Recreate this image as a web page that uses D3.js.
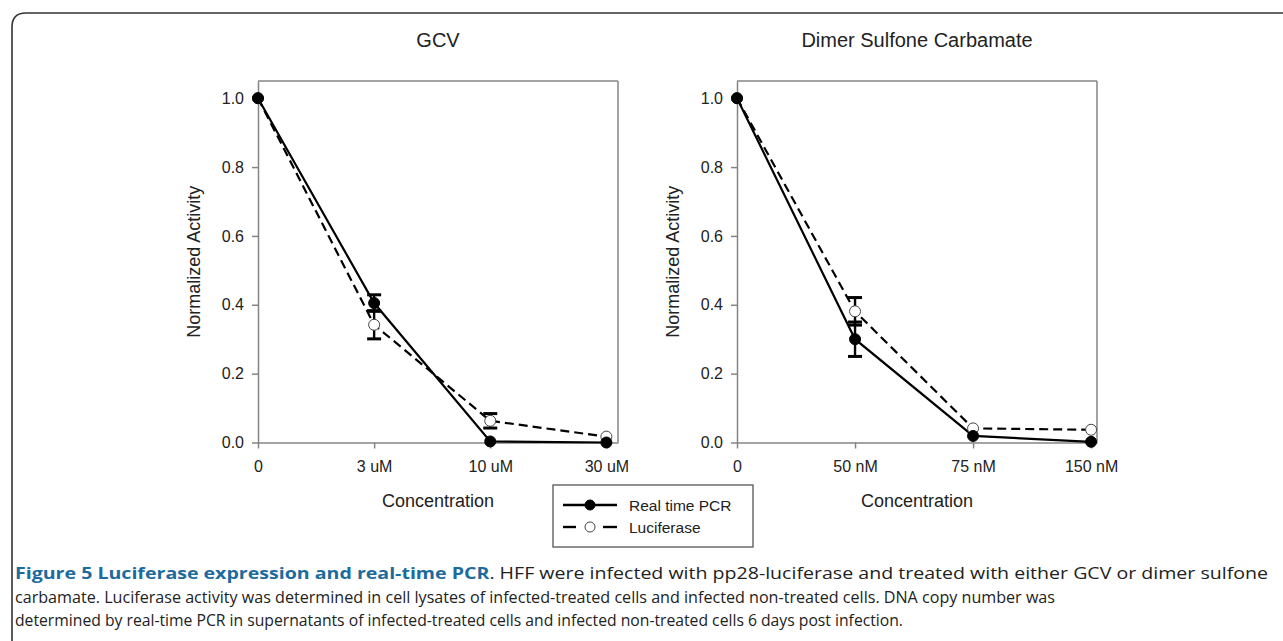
<!DOCTYPE html>
<html lang="en">
<head>
    <meta charset="UTF-8">
    <title>Figure 5 Luciferase expression and real-time PCR</title>
    <script src="https://d3js.org/d3.v7.min.js"></script>
    <style>
        body {
            margin: 0;
            background-color: #fff;
        }
        svg text {
            font-family: "Liberation Sans", Arial, sans-serif;
            fill: #222;
        }
        .frame {
            stroke: #858585;
            stroke-width: 1.5px;
        }
        .axis path, .axis line {
            stroke: #858585;
            stroke-width: 1.5px;
        }
        .axis text {
            font-size: 16px;
            font-family: "Liberation Sans", Arial, sans-serif;
        }
        svg text.caption {
            font-family: "Open Sans", "Noto Sans", sans-serif;
            font-size: 16px;
            fill: #222;
        }
    </style>
</head>
<body>
    <div id="chart"></div>

    <script>
        // tick labels
        const concGCV = ["0", "3 uM", "10 uM", "30 uM"];
        const concDSC = ["0", "50 nM", "75 nM", "150 nM"];

        // values (normalized activity)
        const pcrGCV = [1.0, 0.405, 0.003, 0.0];
        const pcrGCVErr = [0, 0.024, 0, 0];
        const lucGCV = [1.0, 0.342, 0.063, 0.017];
        const lucGCVErr = [0, 0.041, 0.021, 0];

        const pcrDSC = [1.0, 0.300, 0.019, 0.002];
        const pcrDSCErr = [0, 0.05, 0, 0];
        const lucDSC = [1.0, 0.381, 0.041, 0.037];
        const lucDSCErr = [0, 0.04, 0, 0];

        const yTicks = [0, 0.2, 0.4, 0.6, 0.8, 1.0];

        const width = 1283;
        const height = 641;

        const svg = d3.select("#chart")
            .append("svg")
            .attr("width", width)
            .attr("height", height);

        // outer frame, only the top-left corner is inside the picture
        svg.append("path")
            .attr("d", "M12,660 L12,27 Q12,13 26,13 L1300,13")
            .attr("fill", "none")
            .attr("stroke", "#333")
            .attr("stroke-width", 1.6);

        const y = d3.scaleLinear().domain([0, 1.05]).range([442.5, 81]);

        const panels = [
            { title: "GCV", labels: concGCV, left: 258, right: 618, xMax: 3.1,
              series: [
                  { vals: lucGCV, err: lucGCVErr, dash: "9,5", fill: "#fff" },
                  { vals: pcrGCV, err: pcrGCVErr, dash: null, fill: "#000" }
              ] },
            { title: "Dimer Sulfone Carbamate", labels: concDSC, left: 737, right: 1097, xMax: 3.05,
              series: [
                  { vals: lucDSC, err: lucDSCErr, dash: "9,5", fill: "#fff" },
                  { vals: pcrDSC, err: pcrDSCErr, dash: null, fill: "#000" }
              ] }
        ];

        panels.forEach(p => {
            const x = d3.scaleLinear().domain([0, p.xMax]).range([p.left, p.right]);
            const g = svg.append("g");

            // top and right frame
            g.append("line").attr("class", "frame")
                .attr("x1", x(0)).attr("x2", x(p.xMax)).attr("y1", y(1.05)).attr("y2", y(1.05));
            g.append("line").attr("class", "frame")
                .attr("x1", x(p.xMax)).attr("x2", x(p.xMax)).attr("y1", y(1.05)).attr("y2", y(0));

            g.append("g").attr("class", "axis")
                .attr("transform", `translate(${x(0)},0)`)
                .call(d3.axisLeft(y).tickValues(yTicks).tickFormat(d3.format(".1f"))
                    .tickSize(6).tickSizeOuter(0).tickPadding(8));

            g.append("g").attr("class", "axis")
                .attr("transform", `translate(0,${y(0)})`)
                .call(d3.axisBottom(x).tickValues([0, 1, 2, 3]).tickFormat(i => p.labels[i])
                    .tickSize(6).tickSizeOuter(0).tickPadding(12));

            g.selectAll(".axis text").attr("fill", "#222");

            // titles
            const cx = (p.left + p.right) / 2;
            g.append("text").attr("x", cx).attr("y", 47)
                .attr("text-anchor", "middle").style("font-size", "20px").text(p.title);
            g.append("text").attr("x", cx).attr("y", 507)
                .attr("text-anchor", "middle").style("font-size", "18px").text("Concentration");
            g.append("text")
                .attr("transform", `translate(${p.left - 58},${(y(0) + y(1.05)) / 2}) rotate(-90)`)
                .attr("text-anchor", "middle").style("font-size", "18px").text("Normalized Activity");

            const line = d3.line().x((d, i) => x(i)).y(d => y(d));

            p.series.forEach(s => {
                g.append("path")
                    .datum(s.vals)
                    .attr("d", line)
                    .attr("fill", "none")
                    .attr("stroke", "#000")
                    .attr("stroke-width", 2.2)
                    .attr("stroke-dasharray", s.dash);
            });

            p.series.forEach(s => {
                const eb = g.append("g");
                s.vals.forEach((v, i) => {
                    if (!s.err[i]) return;
                    const lo = y(v - s.err[i]), hi = y(v + s.err[i]);
                    eb.append("line").attr("x1", x(i)).attr("x2", x(i)).attr("y1", lo).attr("y2", hi)
                        .attr("stroke", "#000").attr("stroke-width", 2.4);
                    [lo, hi].forEach(yy => eb.append("line")
                        .attr("x1", x(i) - 7).attr("x2", x(i) + 7).attr("y1", yy).attr("y2", yy)
                        .attr("stroke", "#000").attr("stroke-width", 3));
                });
            });

            p.series.forEach(s => {
                g.selectAll(null)
                    .data(s.vals)
                    .enter().append("circle")
                    .attr("cx", (d, i) => x(i))
                    .attr("cy", d => y(d))
                    .attr("r", 5.5)
                    .attr("fill", s.fill)
                    .attr("stroke", s.fill === "#000" ? "#000" : "#444")
                    .attr("stroke-width", 1);
            });
        });

        // legend
        const legendItems = [
            { name: "Real time PCR", dashed: false, fill: "#000" },
            { name: "Luciferase", dashed: true, fill: "#fff" }
        ];
        const lg = svg.append("g").attr("transform", "translate(553,485)");
        lg.append("rect").attr("width", 200).attr("height", 62)
            .attr("fill", "#fff").attr("stroke", "#555").attr("stroke-width", 1.3);
        legendItems.forEach((d, i) => {
            const yy = 20 + i * 22;
            const segs = d.dashed ? [[10, 23], [50, 64]] : [[10, 64]];
            segs.forEach(sg => lg.append("line")
                .attr("x1", sg[0]).attr("x2", sg[1]).attr("y1", yy).attr("y2", yy)
                .attr("stroke", "#000").attr("stroke-width", 2.4));
            lg.append("circle").attr("cx", 37).attr("cy", yy).attr("r", 5)
                .attr("fill", d.fill).attr("stroke", d.fill === "#000" ? "#000" : "#444");
            lg.append("text").attr("x", 76).attr("y", yy + 5.5)
                .style("font-size", "15.5px").text(d.name);
        });

        // caption
        const captionLines = [
            { bold: "Figure 5 Luciferase expression and real-time PCR", rest: ". HFF were infected with pp28-luciferase and treated with either GCV or dimer sulfone", len: 1253 },
            { bold: "", rest: "carbamate. Luciferase activity was determined in cell lysates of infected-treated cells and infected non-treated cells. DNA copy number was", len: 1040 },
            { bold: "", rest: "determined by real-time PCR in supernatants of infected-treated cells and infected non-treated cells 6 days post infection.", len: 888 }
        ];
        captionLines.forEach((c, i) => {
            const t = svg.append("text").attr("class", "caption")
                .attr("x", 15).attr("y", 579 + i * 23.5)
                .attr("textLength", c.len).attr("lengthAdjust", "spacingAndGlyphs");
            if (c.bold) t.append("tspan").style("font-weight", "bold").style("fill", "#1d6b9c").text(c.bold);
            t.append("tspan").text(c.rest);
        });
    </script>
</body>
</html>
